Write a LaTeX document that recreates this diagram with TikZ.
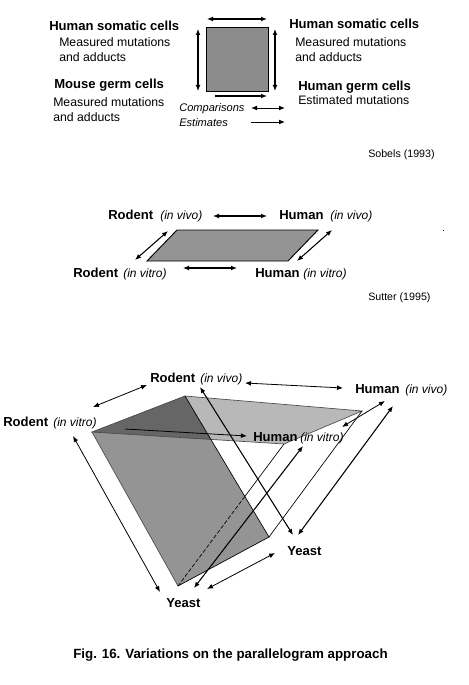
\documentclass[tikz,border=0pt]{standalone}
\usepackage{fontspec}
\setmainfont{Liberation Sans}
\usetikzlibrary{arrows.meta}
\begin{document}
\begin{tikzpicture}[x=0.75pt,y=-0.75pt,
  lbl/.style={anchor=base west,inner sep=0pt,font=\fontsize{9.8}{11}\selectfont\bfseries},
  txt/.style={anchor=base west,inner sep=0pt,font=\fontsize{9.2}{11}\selectfont},
  itl/.style={anchor=base west,inner sep=0pt,font=\fontsize{9}{11}\selectfont\itshape},
  itls/.style={anchor=base west,inner sep=0pt,font=\fontsize{8.3}{10}\selectfont\itshape},
  src/.style={anchor=base west,inner sep=0pt,font=\fontsize{8}{10}\selectfont},
  figcaption/.style={anchor=base west,inner sep=0pt,font=\fontsize{10}{12}\selectfont\bfseries},
  tip/.tip={Latex[length=4.5pt,width=3.6pt]},
  biarr/.style={tip-tip,line width=0.8pt},
  arr/.style={-tip,line width=0.8pt},
  thinline/.style={line width=0.5pt},
]
\useasboundingbox (0,0) rectangle (468,685);

% ---------------- Diagram 1 ----------------
\coordinate (sqa) at (206,27);
\coordinate (sqb) at (268,91);
\fill[black!45] (sqa) rectangle (sqb);
\draw[line width=0.7pt] (sqa) rectangle (sqb);
\coordinate (t1a) at (207,19); \coordinate (t1b) at (267,19);
\coordinate (l1a) at (198,29); \coordinate (l1b) at (198,91);
\coordinate (r1a) at (275,29); \coordinate (r1b) at (275,91);
\coordinate (b1a) at (215,96); \coordinate (b1b) at (267,96);
\coordinate (c1a) at (251,108); \coordinate (c1b) at (285,108);
\coordinate (e1a) at (251,122); \coordinate (e1b) at (285,122);
\draw[biarr] (t1a) -- (t1b);
\draw[biarr] (l1a) -- (l1b);
\draw[biarr] (r1a) -- (r1b);
\draw[arr] (b1a) -- (b1b);
\draw[biarr,line width=0.6pt] (c1a) -- (c1b);
\draw[arr,line width=0.6pt] (e1a) -- (e1b);

\node[lbl] (hs1) at (49,31) {Human somatic cells};
\node[txt] (m1a) at (59,47) {Measured mutations};
\node[txt] (m1b) at (59,62) {and adducts};
\node[lbl] (mg) at (54,89) {Mouse germ cells};
\node[txt] (m2a) at (53,106) {Measured mutations};
\node[txt] (m2b) at (53,122) {and adducts};
\node[lbl] (hs2) at (289,29) {Human somatic cells};
\node[txt] (m3a) at (295,47) {Measured mutations};
\node[txt] (m3b) at (295,62) {and adducts};
\node[lbl] (hg) at (298,90) {Human germ cells};
\node[txt] (est) at (298,104) {Estimated mutations};
\node[itls] (comp) at (179,112) {Comparisons};
\node[itls] (estm) at (179,126) {Estimates};
\node[src] (sob) at (368,157) {Sobels (1993)};

% ---------------- Diagram 2 ----------------
\coordinate (pa) at (177,230);
\coordinate (pb) at (318,230);
\coordinate (pc) at (288,261);
\coordinate (pd) at (147,261);
\fill[black!42] (pa) -- (pb) -- (pc) -- (pd) -- cycle;
\draw[line width=0.7pt] (pa) -- (pb) -- (pc) -- (pd) -- cycle;
\node[lbl] (r2v) at (108,219) {Rodent};
\node[itl] (r2vi) at (160,219) {(in vivo)};
\node[lbl] (h2v) at (279,219) {Human};
\node[itl] (h2vi) at (330,219) {(in vivo)};
\node[lbl] (r2t) at (73,277) {Rodent};
\node[itl] (r2ti) at (123,277) {(in vitro)};
\node[lbl] (h2t) at (255,277) {Human};
\node[itl] (h2ti) at (303,277) {(in vitro)};
\coordinate (a2a) at (213,216); \coordinate (a2b) at (267,216);
\coordinate (a2c) at (183,268); \coordinate (a2d) at (237,268);
\coordinate (a2e) at (135,260); \coordinate (a2f) at (168,231);
\coordinate (a2g) at (297,261); \coordinate (a2h) at (332,230);
\draw[biarr] (a2a) -- (a2b);
\draw[biarr] (a2c) -- (a2d);
\draw[biarr] (a2e) -- (a2f);
\draw[biarr] (a2g) -- (a2h);
\fill (442.5,229.5) rectangle (443.5,230.5);
\node[src] (sut) at (368,300) {Sutter (1995)};

% ---------------- Diagram 3 ----------------
\coordinate (RV) at (185,396);
\coordinate (HV) at (362,411);
\coordinate (HT) at (284,444);
\coordinate (RT) at (92,432);
\coordinate (Y1) at (178,586);
\coordinate (Y2) at (269,537);
\coordinate (X) at (intersection of RV--Y2 and RT--HT);
\coordinate (Z) at (intersection of HT--Y1 and RV--Y2);

\fill[black!28] (RV) -- (HV) -- (HT) -- (RT) -- cycle;
\fill[black!42] (RT) -- (RV) -- (Y2) -- (Y1) -- cycle;
\fill[black!60] (RV) -- (RT) -- (X) -- cycle;
\draw[thinline,black!70] (RV) -- (HV) -- (HT) -- (RT) -- cycle;
\draw[thinline] (RV) -- (Y2) -- (Y1);
\draw[thinline,black!70] (RT) -- (Y1);
\draw[thinline] (HT) -- (Z);
\draw[thinline,dash pattern=on 3pt off 1.5pt] (Z) -- (Y1);
\draw[thinline] (HV) -- (Y2);

\coordinate (b1) at (93,407);  \coordinate (b2) at (147,385);
\coordinate (b3) at (245,383); \coordinate (b4) at (343,388);
\coordinate (b5) at (125,429); \coordinate (b6) at (247,436);
\coordinate (b7) at (342,427); \coordinate (b8) at (385,401);
\coordinate (b9) at (200,387); \coordinate (b10) at (293,535);
\coordinate (b11) at (393,406); \coordinate (b12) at (298,535);
\coordinate (b13) at (73,436); \coordinate (b14) at (160,592);
\coordinate (b15) at (303,446); \coordinate (b16) at (194,588);
\coordinate (b17) at (207,589); \coordinate (b18) at (275,553);
\draw[biarr,line width=0.6pt] (b1) -- (b2);
\draw[biarr,line width=0.6pt] (b3) -- (b4);
\draw[arr,line width=0.6pt] (b5) -- (b6);
\draw[biarr,line width=0.6pt] (b7) -- (b8);
\draw[biarr] (b9) -- (b10);
\draw[biarr] (b11) -- (b12);
\draw[biarr,line width=0.6pt] (b13) -- (b14);
\draw[biarr] (b15) -- (b16);
\draw[biarr,line width=0.6pt] (b17) -- (b18);

\node[lbl] (r3v) at (150,382) {Rodent};
\node[itl] (r3vi) at (200,382) {(in vivo)};
\node[lbl] (h3v) at (355,393) {Human};
\node[itl] (h3vi) at (405,393) {(in vivo)};
\node[lbl] (r3t) at (3,426) {Rodent};
\node[itl] (r3ti) at (53,426) {(in vitro)};
\node[lbl] (h3t) at (253,441) {Human};
\node[itl] (h3ti) at (300,441) {(in vitro)};
\node[lbl] (y3a) at (287,555) {Yeast};
\node[lbl] (y3b) at (166,607) {Yeast};

\node[figcaption] (caption) at (73,658) {Fig. 16. Variations on the parallelogram approach};
\end{tikzpicture}
\end{document}
